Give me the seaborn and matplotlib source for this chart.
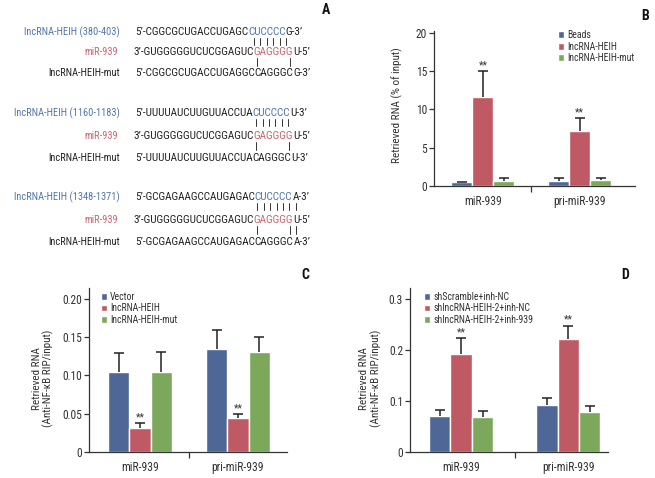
import numpy as np
import pandas as pd
import matplotlib
matplotlib.use("Agg")
import matplotlib.pyplot as plt
import seaborn as sns
from matplotlib.font_manager import FontProperties

# ---- data ----
groups = ["miR-939", "pri-miR-939"]

# panel B: RNA pull-down
b_series = ["Beads", "lncRNA-HEIH", "lncRNA-HEIH-mut"]
b_beads = [0.52, 0.65]
b_heih = [11.6, 7.15]
b_mut = [0.65, 0.78]
b_beads_err = [0.05, 0.45]
b_heih_err = [3.35, 1.65]
b_mut_err = [0.45, 0.32]
b_yticks = [0, 5, 10, 15, 20]
b_yticklabels = ["0", "5", "10", "15", "20"]

# panel C: anti-NF-kB RIP
c_series = ["Vector", "lncRNA-HEIH", "lncRNA-HEIH-mut"]
c_vector = [0.105, 0.134]
c_heih = [0.031, 0.044]
c_mut = [0.104, 0.130]
c_vector_err = [0.024, 0.025]
c_heih_err = [0.007, 0.005]
c_mut_err = [0.026, 0.020]
c_yticks = [0, 0.05, 0.10, 0.15, 0.20]
c_yticklabels = ["0", "0.05", "0.10", "0.15", "0.20"]

# panel D
d_series = ["shScramble+inh-NC", "shlncRNA-HEIH-2+inh-NC", "shlncRNA-HEIH-2+inh-939"]
d_scr = [0.071, 0.092]
d_nc = [0.192, 0.222]
d_inh = [0.068, 0.079]
d_scr_err = [0.011, 0.013]
d_nc_err = [0.032, 0.026]
d_inh_err = [0.012, 0.012]
d_yticks = [0, 0.1, 0.2, 0.3]
d_yticklabels = ["0", "0.1", "0.2", "0.3"]

# panel A: binding sites (prefix, site, suffix)
site_labels = ["lncRNA-HEIH (380-403)", "lncRNA-HEIH (1160-1183)", "lncRNA-HEIH (1348-1371)"]
heih_seqs = [("5’-CGGCGCUGACCUGAGC", "CUCCCC", "G-3’"),
             ("5’-UUUUAUCUUGUUACCUA", "CUCCCC", "U-3’"),
             ("5’-GCGAGAAGCCAUGAGAC", "CUCCCC", "A-3’")]
mir_seq = ("3’-GUGGGGGUCUCGGAGUC", "GAGGGG", "U-5’")
mut_seqs = [("5’-CGGCGCUGACCUGAGGC", "CAGGGC", "G-3’"),
            ("5’-UUUUAUCUUGUUACCUA", "CAGGGC", "U-3’"),
            ("5’-GCGAGAAGCCAUGAGAC", "CAGGGC", "A-3’")]
top_pairs = [[0, 1, 2, 3, 4, 5], [0, 1, 2, 3, 4, 5], [0, 1, 2, 3, 4, 5, 6]]
bottom_pairs = [[0, 5], [0, 5], [0, 5, 6]]

# ---- style ----
sns.set_theme(style="ticks")
FONT = ["Liberation Sans Narrow", "Roboto Condensed", "Liberation Sans", "DejaVu Sans"]
plt.rcParams["font.family"] = FONT
plt.rcParams["axes.edgecolor"] = "#333333"
plt.rcParams["axes.linewidth"] = 0.9

BLUE, RED, GREEN = "#4f6797", "#bf5a64", "#7ba85a"
TXT_BLUE, TXT_RED = "#5276ad", "#c9656e"
INK = "#333333"

W, H = 655, 478
fig = plt.figure(figsize=(W / 100, H / 100), dpi=100)


def px(x, y):
    return x / W, 1 - y / H


def add_ax(left, top, right, bottom):
    return fig.add_axes([left / W, 1 - bottom / H, (right - left) / W, (bottom - top) / H])


def bar_panel(ax, series, vals, errs, width, ylim, xlim, yticks, yticklabels,
              ylabel, ylab_pos, leg_anchor):
    df = pd.DataFrame({
        "group": groups * len(series),
        "value": [v for s in vals for v in s],
        "series": [name for name in series for _ in groups],
    })
    sns.barplot(data=df, x="group", y="value", hue="series", hue_order=series,
                palette=[BLUE, RED, GREEN], width=width, errorbar=None,
                saturation=1, ax=ax)
    # upper-only error bars with a cap at the top
    for cont, e in zip(ax.containers, errs):
        for bar, err in zip(cont, e):
            x = bar.get_x() + bar.get_width() / 2
            h = bar.get_height()
            ax.plot([x, x], [h, h + err], color="#222222", lw=1.1, solid_capstyle="butt")
            ax.plot([x], [h + err], marker="_", markersize=6.5, mew=1.1, color="#222222")
    # stars on the middle series
    for bar, err in zip(ax.containers[1], errs[1]):
        x = bar.get_x() + bar.get_width() / 2
        ax.annotate("**", (x, bar.get_height() + err), xytext=(0, 0.5),
                    textcoords="offset points", ha="center", va="bottom",
                    fontsize=7.5, color=INK)
    ax.set_ylim(*ylim)
    ax.set_xlim(*xlim)
    ax.set_yticks(yticks)
    ax.set_yticklabels(yticklabels)
    ax.set_xticks([0, 1])
    ax.set_xticklabels(groups)
    ax.set_xticks([0.5], minor=True)
    ax.tick_params(axis="x", which="major", length=0, pad=6.5, labelsize=8.3, colors=INK)
    ax.tick_params(axis="x", which="minor", length=4, width=0.9, color=INK)
    ax.tick_params(axis="y", length=3.5, width=0.9, pad=1.5, labelsize=8.3, colors=INK)
    ax.set_xlabel("")
    ax.set_ylabel(ylabel, fontsize=8, color=INK, linespacing=1.1)
    ax.yaxis.set_label_coords(*ylab_pos)
    sns.despine(ax=ax)
    ax.legend(loc="upper left", bbox_to_anchor=leg_anchor, frameon=False,
              fontsize=7, handlelength=0.6, handleheight=0.7,
              handletextpad=0.35, labelspacing=0.15, borderaxespad=0,
              labelcolor=INK)


axB = add_ax(434, 31, 635, 186)
bar_panel(axB, b_series, [b_beads, b_heih, b_mut], [b_beads_err, b_heih_err, b_mut_err],
          0.65, (0, 20.2), (-0.505, 1.57), b_yticks, b_yticklabels,
          "Retrieved RNA (% of input)", (-0.155, 0.52), (0.6, 1.03))

axC = add_ax(89, 288, 287, 452)
bar_panel(axC, c_series, [c_vector, c_heih, c_mut], [c_vector_err, c_heih_err, c_mut_err],
          0.65, (0, 0.214), (-0.52, 1.5), c_yticks, c_yticklabels,
          "Retrieved RNA\n(Anti-NF-κB RIP/input)", (-0.175, 0.45), (0.04, 1.0))

axD = add_ax(410, 288, 608, 452)
bar_panel(axD, d_series, [d_scr, d_nc, d_inh], [d_scr_err, d_nc_err, d_inh_err],
          0.6, (0, 0.3216), (-0.476, 1.37), d_yticks, d_yticklabels,
          "Retrieved RNA\n(Anti-NF-κB RIP/input)", (-0.142, 0.45), (0.05, 1.0))

# ---- panel A: sequence alignments ----
renderer = fig.canvas.get_renderer()
SEQ_FS = 8.1
LAB_FS = 7.45
fp = FontProperties(family=FONT, size=SEQ_FS)


def tw(s):
    if not s:
        return 0.0
    return renderer.get_text_width_height_descent(s, fp, ismath=False)[0]


def draw_seq(x, y, parts, core_color):
    pre, core, suf = parts
    fig.text(*px(x, y), pre, fontsize=SEQ_FS, color="#222222", va="center", ha="left")
    x1 = x + tw(pre)
    fig.text(*px(x1, y), core, fontsize=SEQ_FS, color=core_color, va="center", ha="left")
    x2 = x1 + tw(core)
    fig.text(*px(x2, y), suf, fontsize=SEQ_FS, color="#222222", va="center", ha="left")
    # centres of the characters from the start of the core
    rest = core + suf
    return [x1 + tw(rest[:i]) + tw(rest[i]) / 2 for i in range(len(rest))]


row_y = [(32, 52, 73), (113, 136, 158), (197, 220, 242)]
for i in range(3):
    y1, y2, y3 = row_y[i]
    fig.text(*px(120, y1), site_labels[i], fontsize=LAB_FS, color=TXT_BLUE, ha="right", va="center")
    fig.text(*px(118, y2), "miR-939", fontsize=LAB_FS, color=TXT_RED, ha="right", va="center")
    fig.text(*px(120, y3), "lncRNA-HEIH-mut", fontsize=LAB_FS, color="#222222", ha="right", va="center")
    c1 = draw_seq(135, y1, heih_seqs[i], TXT_BLUE)
    c2 = draw_seq(133, y2, mir_seq, TXT_RED)
    c3 = draw_seq(135, y3, mut_seqs[i], "#222222")
    for k in top_pairs[i]:
        xm = (c1[k] + c2[k]) / 2
        fig.add_artist(plt.Line2D([xm / W] * 2, [1 - (y1 + 6) / H, 1 - (y1 + 13) / H],
                                  color=INK, lw=0.7))
    for k in bottom_pairs[i]:
        xm = (c2[k] + c3[k]) / 2
        fig.add_artist(plt.Line2D([xm / W] * 2, [1 - (y2 + 6) / H, 1 - (y2 + 14) / H],
                                  color=INK, lw=0.7))

# panel letters
for letter, (x, y) in zip("ABCD", [(326, 10), (645, 16), (305, 275), (625, 275)]):
    fig.text(*px(x, y), letter, fontsize=10, fontweight="bold", color="#111111",
             ha="center", va="center")

fig.savefig("out.png", dpi=100)
